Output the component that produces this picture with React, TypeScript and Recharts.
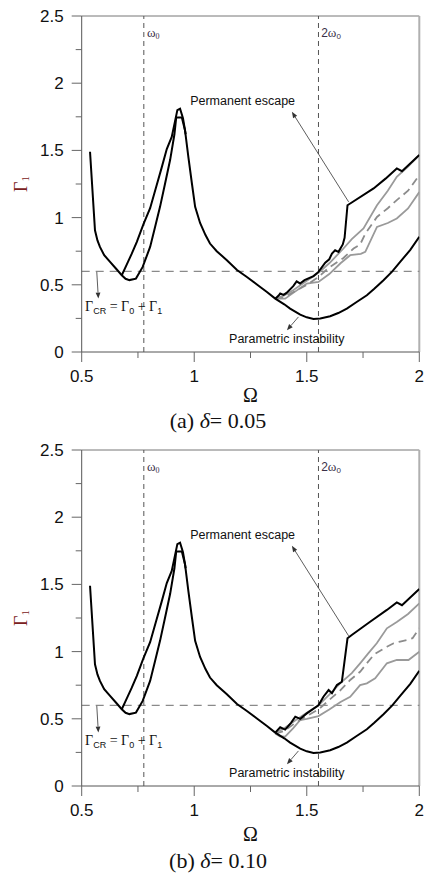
import React from 'react';
import { LineChart, Line, XAxis, YAxis, ReferenceLine, ReferenceDot } from 'recharts';

type P = [number, number];

const xTicks = [0.5, 0.75, 1, 1.25, 1.5, 1.75, 2];
const yTicks = [0, 0.25, 0.5, 0.75, 1, 1.25, 1.5, 1.75, 2, 2.25, 2.5];

const omega0 = 0.776;
const twoOmega0 = 1.552;
const gammaCR = 0.6;

// main black curve: left descent, lower branch of resonance, descent, parametric instability bound
const mainCurve: P[] = [
  [0.537, 1.49], [0.559, 0.906], [0.57, 0.83], [0.581, 0.782], [0.6, 0.72], [0.626, 0.67],
  [0.65, 0.625], [0.678, 0.571], [0.695, 0.545], [0.712, 0.535], [0.741, 0.546], [0.771, 0.633],
  [0.804, 0.782], [0.826, 0.93], [0.848, 1.08], [0.87, 1.25], [0.893, 1.43], [0.912, 1.62],
  [0.92, 1.745], [0.945, 1.745], [0.959, 1.65], [0.974, 1.45], [0.99, 1.25], [1.004, 1.08],
  [1.026, 0.96], [1.05, 0.87], [1.07, 0.807], [1.1, 0.75], [1.145, 0.683], [1.19, 0.61],
  [1.234, 0.558], [1.28, 0.5], [1.323, 0.447], [1.36, 0.397], [1.4, 0.355], [1.426, 0.323],
  [1.471, 0.278], [1.5, 0.258], [1.53, 0.245], [1.56, 0.25], [1.604, 0.266], [1.64, 0.29],
  [1.678, 0.323], [1.72, 0.37], [1.767, 0.422], [1.8, 0.47], [1.841, 0.534], [1.88, 0.6],
  [1.915, 0.67], [1.96, 0.76], [2.0, 0.857],
];

// upper branch of the resonance loop
const upperBranch: P[] = [
  [0.678, 0.571], [0.7, 0.65], [0.722, 0.73], [0.745, 0.82], [0.774, 0.95], [0.804, 1.07],
  [0.833, 1.24], [0.855, 1.37], [0.878, 1.51], [0.9, 1.6], [0.915, 1.72], [0.925, 1.8],
  [0.937, 1.81], [0.95, 1.74], [0.962, 1.62],
];

// (a) delta = 0.05
const escapeA: P[] = [
  [1.36, 0.397], [1.375, 0.42], [1.382, 0.435], [1.397, 0.425], [1.41, 0.44], [1.44, 0.49],
  [1.455, 0.525], [1.47, 0.51], [1.49, 0.535], [1.53, 0.565], [1.552, 0.596], [1.582, 0.665],
  [1.6, 0.69], [1.612, 0.733], [1.626, 0.757], [1.641, 0.745], [1.66, 0.8], [1.668, 0.85],
  [1.681, 1.092], [1.693, 1.105], [1.797, 1.217], [1.85, 1.29], [1.9, 1.366], [1.923, 1.345],
  [2.0, 1.465],
];
const grayUpperA: P[] = [
  [1.36, 0.397], [1.4, 0.42], [1.441, 0.462], [1.5, 0.53], [1.552, 0.59], [1.6, 0.66],
  [1.663, 0.77], [1.7, 0.84], [1.752, 0.919], [1.812, 1.092], [1.86, 1.2], [1.9, 1.303],
  [1.95, 1.38], [2.0, 1.465],
];
const grayDashA: P[] = [
  [1.36, 0.397], [1.4, 0.41], [1.441, 0.446], [1.5, 0.5], [1.552, 0.558], [1.6, 0.63],
  [1.663, 0.7], [1.708, 0.77], [1.737, 0.8], [1.76, 0.88], [1.812, 1.005], [1.86, 1.07],
  [1.9, 1.13], [1.95, 1.2], [2.0, 1.316],
];
const grayLowerA: P[] = [
  [1.36, 0.397], [1.404, 0.397], [1.44, 0.44], [1.5, 0.509], [1.552, 0.521], [1.6, 0.58],
  [1.65, 0.66], [1.693, 0.72], [1.74, 0.73], [1.76, 0.745], [1.812, 0.931], [1.86, 0.96],
  [1.9, 0.993], [1.95, 1.068], [2.0, 1.19],
];

// (b) delta = 0.10
const escapeB: P[] = [
  [1.36, 0.397], [1.382, 0.437], [1.404, 0.42], [1.43, 0.47], [1.449, 0.516], [1.471, 0.5],
  [1.5, 0.54], [1.552, 0.6], [1.574, 0.664], [1.597, 0.714], [1.612, 0.69], [1.634, 0.751],
  [1.656, 0.776], [1.681, 1.099], [1.7, 1.124], [1.78, 1.22], [1.856, 1.31], [1.9, 1.366],
  [1.923, 1.345], [2.0, 1.465],
];
const grayUpperB: P[] = [
  [1.36, 0.395], [1.4, 0.43], [1.45, 0.49], [1.5, 0.545], [1.552, 0.6], [1.6, 0.68],
  [1.648, 0.764], [1.7, 0.84], [1.737, 0.913], [1.775, 0.99], [1.811, 1.062], [1.856, 1.173],
  [1.9, 1.22], [1.95, 1.28], [2.0, 1.359],
];
const grayDashB: P[] = [
  [1.36, 0.39], [1.4, 0.41], [1.45, 0.47], [1.5, 0.52], [1.552, 0.57], [1.6, 0.64],
  [1.648, 0.71], [1.693, 0.789], [1.737, 0.85], [1.767, 0.913], [1.8, 0.98], [1.83, 1.01],
  [1.856, 1.036], [1.886, 1.062], [1.915, 1.075], [1.945, 1.086], [1.97, 1.1], [2.0, 1.173],
];
const grayLowerB: P[] = [
  [1.36, 0.39], [1.38, 0.37], [1.404, 0.367], [1.44, 0.43], [1.471, 0.491], [1.5, 0.5],
  [1.552, 0.52], [1.6, 0.57], [1.65, 0.625], [1.693, 0.664], [1.737, 0.751], [1.767, 0.764],
  [1.804, 0.801], [1.856, 0.913], [1.9, 0.9375], [1.952, 0.9375], [2.0, 0.999],
];

const toData = (pts: P[]) => pts.map(([x, y]) => ({ x, y }));

const SANS = 'Liberation Sans, Arial, sans-serif';
const SERIF = 'Liberation Serif, Times New Roman, serif';

const fmt = (v: number) => String(v);
const isMajor = (v: number) => Math.abs(v * 2 - Math.round(v * 2)) < 1e-6;

const XTick = (props: any) => {
  const { x, y, payload } = props;
  const v = payload.value;
  const major = isMajor(v);
  return (
    <g>
      <line x1={x} y1={y} x2={x} y2={y + (major ? 10 : 6)} stroke="#666" strokeWidth={1} />
      {major && (
        <text x={x} y={y + 30} textAnchor="middle" fontFamily={SANS} fontSize={17} fill="#111">
          {fmt(v)}
        </text>
      )}
    </g>
  );
};

const YTick = (props: any) => {
  const { x, y, payload } = props;
  const v = payload.value;
  const major = isMajor(v);
  return (
    <g>
      <line x1={x - (major ? 10 : 6)} y1={y} x2={x} y2={y} stroke="#666" strokeWidth={1} />
      {major && (
        <text x={x - 18} y={y + 6} textAnchor="end" fontFamily={SANS} fontSize={17} fill="#111">
          {fmt(v)}
        </text>
      )}
    </g>
  );
};

const arrowShape = (props: any) => {
  const { x1, y1, x2, y2 } = props;
  const ang = Math.atan2(y2 - y1, x2 - x1);
  const L = 6;
  const W = 2.4;
  const bx = x2 - L * Math.cos(ang);
  const by = y2 - L * Math.sin(ang);
  const px = -Math.sin(ang) * W;
  const py = Math.cos(ang) * W;
  return (
    <g>
      <line x1={x1} y1={y1} x2={bx} y2={by} stroke="#333" strokeWidth={0.8} />
      <polygon points={`${x2},${y2} ${bx + px},${by + py} ${bx - px},${by - py}`} fill="#333" />
    </g>
  );
};

const textDot = (render: (cx: number, cy: number) => React.ReactElement) => (props: any) =>
  render(props.cx, props.cy);

type PanelProps = {
  escape: P[];
  grayUpper: P[];
  grayDash: P[];
  grayLower: P[];
  tag: string;
  delta: string;
  omegaDy: number;
  captionDy: number;
  height: number;
};

const Panel = ({ escape, grayUpper, grayDash, grayLower, tag, delta, omegaDy, captionDy, height }: PanelProps) => (
  <LineChart width={427} height={height} margin={{ top: 16, right: 7.7, bottom: height - 352 - 30, left: 0 }}>
    <XAxis
      dataKey="x"
      type="number"
      domain={[0.5, 2]}
      ticks={xTicks}
      interval={0}
      height={30}
      tickSize={0}
      tickMargin={0}
      tickLine={false}
      axisLine={{ stroke: '#555', strokeWidth: 1 }}
      tick={<XTick />}
      allowDataOverflow
      label={{
        content: (p: any) => {
          const vb = p.viewBox;
          return (
            <g>
              <text x={vb.x + vb.width / 2} y={vb.y + omegaDy} textAnchor="middle" fontFamily={SERIF} fontSize={20} fill="#111">
                Ω
              </text>
              <text x={218} y={vb.y + captionDy} textAnchor="middle" fontFamily={SERIF} fontSize={22} fill="#111">
                {tag} <tspan fontStyle="italic">δ</tspan>= {delta}
              </text>
            </g>
          );
        },
      }}
    />
    <YAxis
      type="number"
      domain={[0, 2.5]}
      ticks={yTicks}
      interval={0}
      width={81.7}
      tickSize={0}
      tickMargin={0}
      tickLine={false}
      axisLine={{ stroke: '#555', strokeWidth: 1 }}
      tick={<YTick />}
      allowDataOverflow
      label={{
        content: (p: any) => {
          const vb = p.viewBox;
          const cx = vb.x + 21;
          const cy = vb.y + vb.height / 2;
          return (
            <text
              x={cx}
              y={cy}
              transform={`rotate(-90, ${cx}, ${cy})`}
              textAnchor="middle"
              dominantBaseline="central"
              fontFamily={SERIF}
              fontSize={18}
              fill="#7a2020"
            >
              Γ<tspan fontSize={11} dy={4}>1</tspan>
            </text>
          );
        },
      }}
    />

    <ReferenceLine y={2.5} stroke="#777" strokeWidth={1} />
    <ReferenceLine x={2} stroke="#b0b0b0" strokeWidth={2} />
    <ReferenceLine x={omega0} stroke="#555" strokeWidth={1} strokeDasharray="5 4" />
    <ReferenceLine x={twoOmega0} stroke="#555" strokeWidth={1} strokeDasharray="5 4" />
    <ReferenceLine y={gammaCR} stroke="#8a8a8a" strokeWidth={1.3} strokeDasharray="8 6" />

    <Line data={toData(grayLower)} dataKey="y" type="linear" stroke="#9a9a9a" strokeWidth={1.8} dot={false} isAnimationActive={false} />
    <Line data={toData(grayDash)} dataKey="y" type="linear" stroke="#8c8c8c" strokeWidth={1.8} strokeDasharray="8 5" dot={false} isAnimationActive={false} />
    <Line data={toData(grayUpper)} dataKey="y" type="linear" stroke="#9a9a9a" strokeWidth={1.8} dot={false} isAnimationActive={false} />
    <Line data={toData(escape)} dataKey="y" type="linear" stroke="#000" strokeWidth={2} dot={false} isAnimationActive={false} />
    <Line data={toData(upperBranch)} dataKey="y" type="linear" stroke="#000" strokeWidth={2} dot={false} isAnimationActive={false} />
    <Line data={toData(mainCurve)} dataKey="y" type="linear" stroke="#000" strokeWidth={2} dot={false} isAnimationActive={false} />

    <ReferenceLine segment={[{ x: 1.686, y: 1.117 }, { x: 1.434, y: 1.787 }]} shape={arrowShape} />
    <ReferenceLine segment={[{ x: 1.463, y: 0.261 }, { x: 1.412, y: 0.162 }]} shape={arrowShape} />
    <ReferenceLine segment={[{ x: 0.567, y: 0.596 }, { x: 0.574, y: 0.398 }]} shape={arrowShape} />

    <ReferenceDot
      x={0.79}
      y={2.343}
      r={0}
      shape={textDot((cx, cy) => (
        <text x={cx} y={cy} fontFamily={SERIF} fontSize={13} fill="#3a3048">
          ω<tspan fontSize={8} dy={2}>0</tspan>
        </text>
      ))}
    />
    <ReferenceDot
      x={1.564}
      y={2.343}
      r={0}
      shape={textDot((cx, cy) => (
        <text x={cx} y={cy} fontFamily={SANS} fontSize={12} fill="#3a3048">
          2<tspan fontFamily={SERIF} fontSize={13}>ω</tspan>
          <tspan fontSize={8} dy={2}>0</tspan>
        </text>
      ))}
    />
    <ReferenceDot
      x={1.215}
      y={1.837}
      r={0}
      shape={textDot((cx, cy) => (
        <text x={cx} y={cy} textAnchor="middle" fontFamily={SANS} fontSize={12.5} fill="#111">
          Permanent escape
        </text>
      ))}
    />
    <ReferenceDot
      x={1.411}
      y={0.065}
      r={0}
      shape={textDot((cx, cy) => (
        <text x={cx} y={cy} textAnchor="middle" fontFamily={SANS} fontSize={12.5} fill="#111">
          Parametric instability
        </text>
      ))}
    />
    <ReferenceDot
      x={0.515}
      y={0.303}
      r={0}
      shape={textDot((cx, cy) => (
        <text x={cx} y={cy} fontFamily={SERIF} fontSize={14} fill="#111">
          Γ<tspan fontFamily={SANS} fontSize={9} dy={3}>CR</tspan>
          <tspan dy={-3}> = Γ</tspan>
          <tspan fontFamily={SANS} fontSize={9} dy={3}>0</tspan>
          <tspan dy={-3}> + Γ</tspan>
          <tspan fontFamily={SANS} fontSize={9} dy={3}>1</tspan>
        </text>
      ))}
    />
  </LineChart>
);

export default function App() {
  return (
    <div style={{ position: 'absolute', left: 0, top: 0, width: 427, height: 873, background: '#fff' }}>
      <Panel
        escape={escapeA}
        grayUpper={grayUpperA}
        grayDash={grayDashA}
        grayLower={grayLowerA}
        tag="(a)"
        delta="0.05"
        omegaDy={50}
        captionDy={76}
        height={434}
      />
      <Panel
        escape={escapeB}
        grayUpper={grayUpperB}
        grayDash={grayDashB}
        grayLower={grayLowerB}
        tag="(b)"
        delta="0.10"
        omegaDy={55}
        captionDy={82}
        height={439}
      />
    </div>
  );
}
